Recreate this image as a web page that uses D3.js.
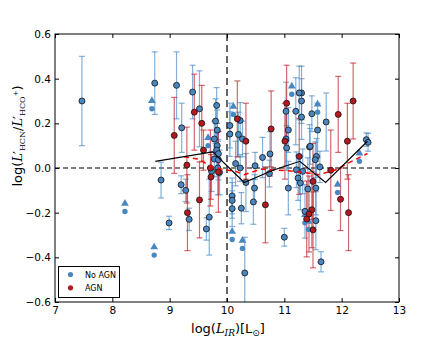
<!DOCTYPE html>
<html>
<head>
<meta charset="utf-8">
<script src="https://cdn.jsdelivr.net/npm/d3@7"></script>
<style>
  body { margin: 0; background: #fff; }
  text { font-family: "DejaVu Sans", sans-serif; }
</style>
</head>
<body>
<svg id="chart"></svg>
<script>
var width = 443;
var height = 346;

// No AGN detections (log L_IR, log ratio, error)
var blueX = [7.47, 8.74, 9.12, 9.21, 9.40, 9.52, 9.82, 9.80, 9.83, 9.78, 9.83, 9.82, 9.85, 9.78, 9.85, 9.84, 9.87, 10.15,
  8.85, 8.99, 9.20, 9.28, 9.34, 9.64, 9.69, 9.73, 10.09, 10.09, 10.09, 10.25, 10.31, 10.48, 10.46, 10.33,
  11.00, 11.07, 11.24, 11.28, 11.41, 11.55, 11.32, 11.36, 11.55, 11.64, 12.43, 12.46, 11.73, 11.58, 11.48,
  11.30, 11.30, 11.30, 11.44, 11.56, 11.54, 11.62, 10.23, 10.20, 10.27, 10.23, 10.49, 10.62, 10.75, 10.74,
  11.03, 11.03, 11.07, 11.04, 11.20, 11.26, 11.45, 11.21, 10.05, 10.05];
var blueY = [0.30, 0.38, 0.37, 0.18, 0.34, 0.265, 0.28, 0.21, 0.17, 0.13, 0.10, 0.08, 0.064, 0.04, 0.037, 0.0, -0.02, 0.02,
  -0.054, -0.246, -0.075, -0.10, -0.23, -0.273, -0.22, -0.015, -0.125, -0.145, -0.182, -0.18, -0.47, -0.09, -0.152, -0.065,
  -0.31, -0.09, -0.045, -0.067, -0.094, -0.09, -0.015, -0.194, -0.236, -0.42, 0.127, 0.115, 0.206, 0.17, 0.243,
  0.336, 0.30, 0.228, 0.094, 0.052, 0.037, 0.005, 0.213, 0.15, 0.13, 0.0, 0.01, 0.047, 0.063, -0.025,
  0.254, 0.13, 0.17, 0.09, 0.254, 0.336, 0.097, -0.008, 0.19, 0.152];
var blueErr = [0.20, 0.14, 0.15, 0.11, 0.12, 0.17, 0.08, 0.10, 0.09, 0.08, 0.10, 0.08, 0.10, 0.08, 0.09, 0.12, 0.10, 0.10,
  0.08, 0.03, 0.04, 0.05, 0.05, 0.05, 0.17, 0.09, 0.08, 0.08, 0.08, 0.07, 0.16, 0.06, 0.10, 0.13,
  0.04, 0.12, 0.10, 0.12, 0.14, 0.12, 0.10, 0.12, 0.13, 0.045, 0.03, 0.04, 0.13, 0.12, 0.08,
  0.12, 0.10, 0.10, 0.10, 0.08, 0.08, 0.07, 0.08, 0.10, 0.08, 0.06, 0.06, 0.09, 0.10, 0.06,
  0.13, 0.12, 0.10, 0.10, 0.15, 0.12, 0.08, 0.08, 0.10, 0.10];

// No AGN lower limits
var limX = [8.69, 9.67, 8.73, 8.22, 10.09, 10.27, 10.11, 11.13, 11.58, 11.93, 12.31, 11.36, 11.42];
var limY = [0.265, 0.10, -0.39, -0.195, -0.32, -0.36, 0.24, 0.33, 0.25, -0.11, 0.03, -0.245, -0.275];

// AGN
var redX = [9.08, 9.30, 9.43, 9.56, 9.59, 9.71, 9.72, 9.31, 9.52, 9.85, 10.18, 10.33, 10.67, 10.77, 11.04, 11.01,
  11.26, 11.50, 11.48, 11.43, 11.39, 11.50, 11.81, 11.94, 12.20, 12.10, 11.98, 12.12];
var redY = [0.146, 0.013, 0.25, 0.20, 0.08, 0.0, -0.04, -0.20, -0.143, -0.018, 0.22, 0.12, -0.165, 0.175, 0.29, 0.12,
  0.052, -0.06, -0.187, -0.206, -0.228, -0.277, -0.01, 0.24, 0.30, 0.12, -0.14, -0.20];
var redErr = [0.17, 0.17, 0.17, 0.17, 0.09, 0.17, 0.10, 0.17, 0.17, 0.18, 0.17, 0.17, 0.17, 0.17, 0.17, 0.17,
  0.17, 0.17, 0.17, 0.17, 0.17, 0.17, 0.18, 0.17, 0.17, 0.17, 0.14, 0.17];

// running medians
var allMedX = [8.75, 9.75, 10.30, 10.80, 11.27, 11.72, 12.45];
var allMedY = [0.03, 0.072, -0.065, -0.01, 0.03, -0.065, 0.12];
var agnMedX = [9.25, 9.50, 9.70, 9.90, 10.15, 10.30, 10.60, 11.20, 11.60, 11.90, 12.10, 12.45];
var agnMedY = [0.05, 0.04, 0.01, -0.005, -0.015, -0.03, -0.005, -0.015, -0.03, -0.008, 0.02, 0.065];

var xTicks = [7, 8, 9, 10, 11, 12, 13];
var yTicks = [-0.6, -0.4, -0.2, 0.0, 0.2, 0.4, 0.6];

var blueFill = "#4a87c1", blueBar = "#4f8fcb";
var redFill = "#b3191e", redBar = "#c0282c";

var svg = d3.select("#chart").attr("width", width).attr("height", height);

var x = d3.scaleLinear().domain([7, 13]).range([55, 399]);
var y = d3.scaleLinear().domain([-0.6, 0.6]).range([302, 34]);

var fmt = function(d){ return d3.format(".1f")(d).replace("-", "\u2212"); };

svg.append("defs").append("clipPath").attr("id", "clip")
  .append("rect").attr("x", 55).attr("y", 34).attr("width", 344).attr("height", 268);

var g = svg.append("g").attr("clip-path", "url(#clip)");

// reference lines
g.append("line").attr("x1", x(7)).attr("x2", x(13)).attr("y1", y(0)).attr("y2", y(0))
  .attr("stroke", "#000").attr("stroke-width", 1.2).attr("stroke-dasharray", "5,3");
g.append("line").attr("x1", x(10)).attr("x2", x(10)).attr("y1", y(0.6)).attr("y2", y(-0.6))
  .attr("stroke", "#666").attr("stroke-width", 2).attr("stroke-dasharray", "7,4");

function errorBars(xs, ys, es, color){
  var eb = g.append("g").attr("stroke", color).attr("stroke-opacity", 0.7).attr("stroke-width", 1.2);
  xs.forEach(function(d, i){
    var cx = x(d), top = y(ys[i] + es[i]), bot = y(ys[i] - es[i]);
    eb.append("line").attr("x1", cx).attr("x2", cx).attr("y1", top).attr("y2", bot);
    eb.append("line").attr("x1", cx - 3).attr("x2", cx + 3).attr("y1", top).attr("y2", top);
    eb.append("line").attr("x1", cx - 3).attr("x2", cx + 3).attr("y1", bot).attr("y2", bot);
  });
}
errorBars(blueX, blueY, blueErr, blueBar);
errorBars(redX, redY, redErr, redBar);

// lower limits: triangle above a dot
var tri = d3.symbol().type(d3.symbolTriangle).size(26);
limX.forEach(function(d, i){
  g.append("path").attr("d", tri)
    .attr("transform", "translate(" + x(d) + "," + (y(limY[i]) - 8) + ")")
    .attr("fill", blueFill);
  g.append("circle").attr("cx", x(d)).attr("cy", y(limY[i])).attr("r", 2.7).attr("fill", blueFill);
});

g.selectAll(".blue").data(d3.range(blueX.length)).enter().append("circle")
  .attr("cx", function(i){ return x(blueX[i]); })
  .attr("cy", function(i){ return y(blueY[i]); })
  .attr("r", 3).attr("fill", blueFill).attr("stroke", "#111").attr("stroke-width", 0.8);

g.selectAll(".red").data(d3.range(redX.length)).enter().append("circle")
  .attr("cx", function(i){ return x(redX[i]); })
  .attr("cy", function(i){ return y(redY[i]); })
  .attr("r", 3).attr("fill", redFill).attr("stroke", "#111").attr("stroke-width", 0.8);

var line = d3.line().x(function(d){ return x(d[0]); }).y(function(d){ return y(d[1]); });
g.append("path").datum(d3.zip(agnMedX, agnMedY)).attr("d", line)
  .attr("fill", "none").attr("stroke", "#ff0000").attr("stroke-width", 1.5).attr("stroke-dasharray", "5,4");
g.append("path").datum(d3.zip(allMedX, allMedY)).attr("d", line)
  .attr("fill", "none").attr("stroke", "#000").attr("stroke-width", 1.2);

// axes with inward ticks on all sides
svg.append("g").attr("transform", "translate(0,302)")
  .call(d3.axisBottom(x).tickValues(xTicks).tickSize(-4).tickSizeOuter(0).tickPadding(5).tickFormat(d3.format("d")));
svg.append("g").attr("transform", "translate(0,34)")
  .call(d3.axisTop(x).tickValues(xTicks).tickSize(-4).tickSizeOuter(0).tickFormat(""));
svg.append("g").attr("transform", "translate(55,0)")
  .call(d3.axisLeft(y).tickValues(yTicks).tickSize(-4).tickSizeOuter(0).tickPadding(4).tickFormat(fmt));
svg.append("g").attr("transform", "translate(399,0)")
  .call(d3.axisRight(y).tickValues(yTicks).tickSize(-4).tickSizeOuter(0).tickFormat(""));
svg.selectAll(".domain").remove();
svg.selectAll(".tick text").attr("font-size", 10.5).attr("fill", "#000").attr("font-family", "DejaVu Sans, sans-serif");
svg.selectAll(".tick line").attr("stroke", "#000");

svg.append("rect").attr("x", 55).attr("y", 34).attr("width", 344).attr("height", 268)
  .attr("fill", "none").attr("stroke", "#000").attr("stroke-width", 1);

// axis labels
var xl = svg.append("text").attr("x", 228).attr("y", 333).attr("text-anchor", "middle").attr("font-size", 13);
xl.append("tspan").text("log(");
xl.append("tspan").attr("font-style", "italic").attr("font-family", "DejaVu Serif, serif").text("L");
xl.append("tspan").attr("font-style", "italic").attr("font-family", "DejaVu Serif, serif").attr("font-size", 9).attr("dy", 3).text("IR");
xl.append("tspan").attr("dy", -3).text(")[L");
xl.append("tspan").attr("font-size", 9).attr("dy", 3).text("\u2299");
xl.append("tspan").attr("dy", -3).text("]");

var yl = svg.append("text").attr("transform", "translate(22,136) rotate(-90)")
  .attr("text-anchor", "middle").attr("font-size", 13);
yl.append("tspan").text("log(");
yl.append("tspan").attr("font-style", "italic").attr("font-family", "DejaVu Serif, serif").text("L");
yl.append("tspan").attr("dx", -1).text("\u2032");
yl.append("tspan").attr("font-size", 8).attr("font-family", "DejaVu Serif, serif").attr("dy", 3).text("HCN");
yl.append("tspan").attr("dy", -3).text("/");
yl.append("tspan").attr("font-style", "italic").attr("font-family", "DejaVu Serif, serif").text("L");
yl.append("tspan").attr("dx", -1).text("\u2032");
yl.append("tspan").attr("font-size", 8).attr("font-family", "DejaVu Serif, serif").attr("dy", 3).text("HCO");
yl.append("tspan").attr("font-size", 7).attr("dy", -7).text("+");
yl.append("tspan").attr("dy", 4).text(")");

// legend
var lg = svg.append("g");
lg.append("rect").attr("x", 58.5).attr("y", 266.5).attr("width", 61).attr("height", 31)
  .attr("fill", "#fff").attr("stroke", "#000").attr("stroke-width", 1);
[["No AGN", blueFill], ["AGN", redFill]].forEach(function(d, i){
  var yy = 274.5 + i * 13.3;
  lg.append("circle").attr("cx", 70.5).attr("cy", yy).attr("r", 2.6).attr("fill", d[1]);
  lg.append("text").attr("x", 85).attr("y", yy + 3).attr("font-size", 8).text(d[0]);
});
</script>
</body>
</html>
